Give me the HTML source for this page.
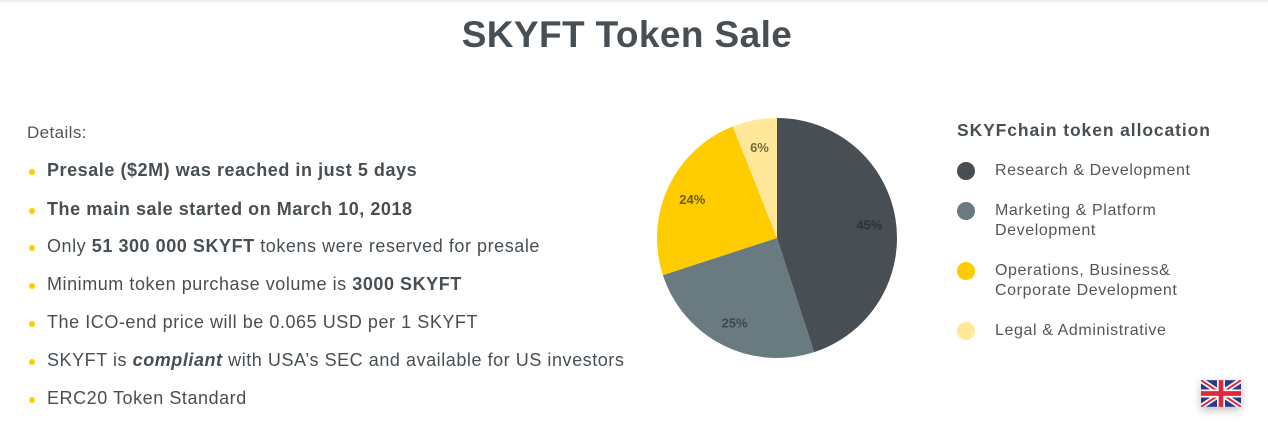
<!DOCTYPE html>
<html><head><meta charset="utf-8"><style>
body{margin:0;width:1268px;height:423px;background:#fff;font-family:"Liberation Sans",sans-serif;color:#474f54;position:relative;overflow:hidden}
.topbar{position:absolute;left:0;top:0;width:1268px;height:3px;background:linear-gradient(#e6e6e6,#fff)}
h1{position:absolute;left:0;width:1254px;top:14px;margin:0;text-align:center;font-size:37px;letter-spacing:0.4px;font-weight:bold;color:#474f54}
.det{position:absolute;left:27px;top:123px;font-size:17px;letter-spacing:0.4px;color:#555}
.li{position:absolute;left:47px;font-size:18px;letter-spacing:0.55px;color:#474f54;white-space:nowrap}
.li::before{content:"";position:absolute;left:-18px;top:9px;width:6px;height:6px;border-radius:50%;background:#ffcc00}
.lt{position:absolute;left:957px;top:120px;font-size:17.5px;letter-spacing:0.9px;font-weight:bold}
.ld{position:absolute;left:957px;width:18px;height:18px;border-radius:50%}
.lx{position:absolute;left:995px;font-size:16px;letter-spacing:0.6px;color:#555;line-height:20px}
</style></head><body>
<div class="topbar"></div>
<h1>SKYFT Token Sale</h1>
<div class="det">Details:</div>
<div class="li" style="top:160px"><b>Presale ($2M) was reached in just 5 days</b></div>
<div class="li" style="top:199px"><b>The main sale started on March 10, 2018</b></div>
<div class="li" style="top:236px">Only <b>51 300 000 SKYFT</b> tokens were reserved for presale</div>
<div class="li" style="top:274px">Minimum token purchase volume is <b>3000 SKYFT</b></div>
<div class="li" style="top:312px">The ICO-end price will be 0.065 USD per 1 SKYFT</div>
<div class="li" style="top:350px">SKYFT is <b><i>compliant</i></b> with USA’s SEC and available for US investors</div>
<div class="li" style="top:388px">ERC20 Token Standard</div>
<svg id="pie" width="1268" height="423" style="position:absolute;left:0;top:0"></svg>
<div class="lt">SKYFchain token allocation</div>
<div class="ld" style="top:162px;background:#474f54"></div>
<div class="lx" style="top:161px">Research &amp; Development</div>
<div class="ld" style="top:202px;background:#697a80"></div>
<div class="lx" style="top:201px">Marketing &amp; Platform<br>Development</div>
<div class="ld" style="top:262px;background:#ffcc00"></div>
<div class="lx" style="top:261px">Operations, Business&amp;<br>Corporate Development</div>
<div class="ld" style="top:322px;background:#ffe89a"></div>
<div class="lx" style="top:321px">Legal &amp; Administrative</div>
<svg width="40" height="27" viewBox="0 0 60 40" style="position:absolute;left:1201px;top:380px;box-shadow:0 3px 8px rgba(0,0,0,.25)">
<rect width="60" height="40" fill="#2b3a86"/><path d="M0,0L60,40M60,0L0,40" stroke="#fff" stroke-width="8"/><path d="M0,0L60,40M60,0L0,40" stroke="#e0283c" stroke-width="3"/><path d="M30,0V40M0,20H60" stroke="#fff" stroke-width="12"/><path d="M30,0V40M0,20H60" stroke="#e0283c" stroke-width="7"/></svg>
<script>
const categories=["Research & Development","Marketing & Platform Development","Operations, Business& Corporate Development","Legal & Administrative"];
const values=[45,25,24,6];
const labels=["45%","25%","24%","6%"];
const colors=["#474f54","#697a80","#ffcc00","#ffe89a"];
const labelColors=["#2c3236","#3d474b","#6b5a10","#7a6a3a"];
const svg=document.getElementById('pie');
const cx=777,cy=238,r=120,NS="http://www.w3.org/2000/svg";
const total=values.reduce((a,b)=>a+b,0);
let a0=-Math.PI/2;
values.forEach((v,i)=>{
 const a1=a0+v/total*2*Math.PI;
 const p=document.createElementNS(NS,'path');
 const large=(a1-a0)>Math.PI?1:0;
 p.setAttribute('d',`M${cx},${cy}L${cx+r*Math.cos(a0)},${cy+r*Math.sin(a0)}A${r},${r} 0 ${large} 1 ${cx+r*Math.cos(a1)},${cy+r*Math.sin(a1)}Z`);
 p.setAttribute('fill',colors[i]);
 
 
 svg.appendChild(p);
 const am=(a0+a1)/2,lr=r*0.78;
 const t=document.createElementNS(NS,'text');
 t.setAttribute('x',cx+lr*Math.cos(am));
 t.setAttribute('y',cy+lr*Math.sin(am)+6);
 t.setAttribute('text-anchor','middle');
 t.setAttribute('font-size','13');
 t.setAttribute('font-weight','bold');
 t.setAttribute('font-family','Liberation Sans, sans-serif');
 t.setAttribute('fill',labelColors[i]);
 t.textContent=labels[i];
 
 
 svg.appendChild(t);
 a0=a1;
});
</script>
</body></html>
